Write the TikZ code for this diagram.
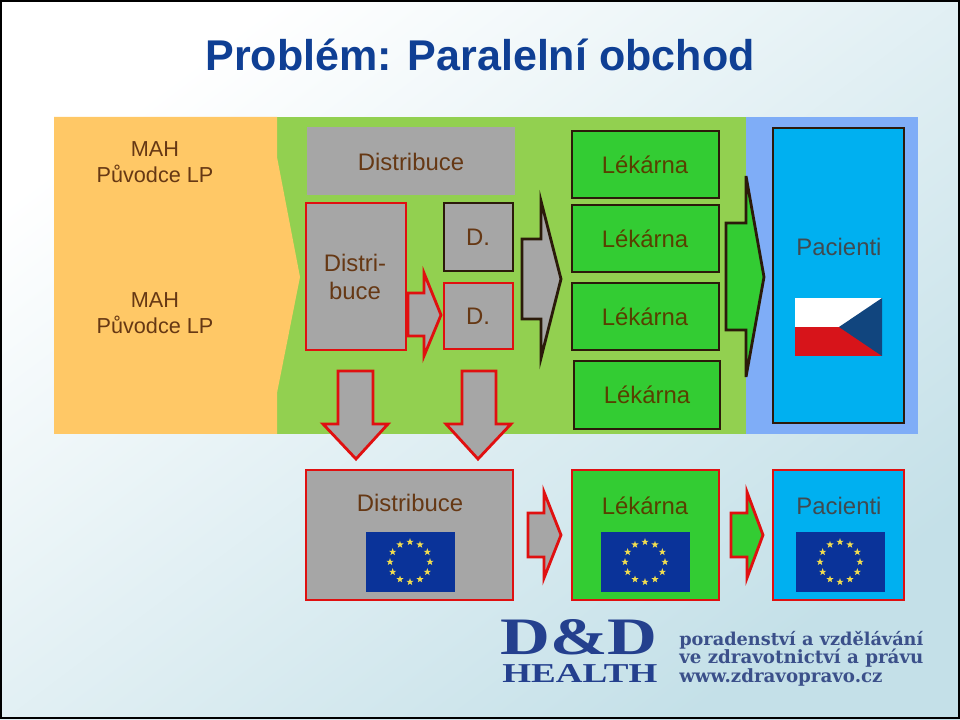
\documentclass[tikz,border=0pt]{standalone}
\usepackage{fontspec}
\setmainfont{Liberation Sans}
\newfontfamily\logoserif{Liberation Serif}
\newfontfamily\logosmall{DejaVu Serif}
\usetikzlibrary{shapes.geometric}
\definecolor{titleblue}{HTML}{0F3F94}
\definecolor{band1}{HTML}{FFC866}
\definecolor{band2}{HTML}{92D050}
\definecolor{band3}{HTML}{7FADF7}
\definecolor{distgrey}{HTML}{A6A6A6}
\definecolor{pharmgreen}{HTML}{33CC33}
\definecolor{patblue}{HTML}{00B0F0}
\definecolor{edgered}{HTML}{E01010}
\definecolor{edgedark}{HTML}{2B1A0A}
\definecolor{ink}{HTML}{663814}
\definecolor{inkgreen}{HTML}{584000}
\definecolor{inkblue}{HTML}{404A50}
\definecolor{czred}{HTML}{D7141A}
\definecolor{czblue}{HTML}{11457E}
\definecolor{euflag}{HTML}{0A3399}
\definecolor{eustar}{HTML}{F0DC50}
\definecolor{logoblue}{HTML}{24408E}
\definecolor{bgmid}{HTML}{F4FAFC}
\definecolor{bgend}{HTML}{C4E0E8}
\tikzset{lab/.style={anchor=base,inner sep=0pt,font=\fontsize{17}{18.5}\selectfont,align=center},
  box/.style={draw=#1,line width=2pt,inner sep=0pt},
  arr/.style={line width=2pt,miter limit=10},
  star12/.style={star,star points=5,star point ratio=2.5,fill=eustar,inner sep=0pt,minimum size=0.19cm}}
\begin{document}
\begin{tikzpicture}[x=0.025cm,y=-0.025cm]
\useasboundingbox (0,0) rectangle (960,720);
\shade[top color=white,middle color=bgmid,bottom color=bgend,shading angle=37] (0,0) rectangle (960,720);
\draw[black,line width=1.2pt] (1,1) rectangle (959,718);
\node[anchor=base,inner sep=0pt,font=\fontsize{30.6}{36}\selectfont\bfseries,text=titleblue] (title) at (480,71) {Problém: Paralelní obchod};
% bands
\fill[band2] (277,117) rectangle (746,434);
\fill[band3] (746,117) rectangle (918,434);
\fill[band1] (54,117) -- (277,117) -- (277,157) -- (300,277) -- (277,393) -- (277,434) -- (54,434) -- cycle;
\node[lab,text=ink,font=\fontsize{15.4}{18.5}\selectfont] (mahtop) at (155,183) {MAH\\Původce LP};
\node[lab,text=ink,font=\fontsize{15.4}{18.5}\selectfont] (mahlow) at (155,334) {MAH\\Původce LP};
% boxes
\foreach \name/\xa/\ya/\xb/\yb/\c/\e in {distbar/308/128/514/194/distgrey/distgrey,distred/306/203/406/350/distgrey/edgered,
  dtop/444/203/513/271/distgrey/edgedark,dlow/444/283/513/349/distgrey/edgered,
  phar1/572/131/719/198/pharmgreen/edgedark,phar2/572/205/719/272/pharmgreen/edgedark,
  phar3/572/283/719/350/pharmgreen/edgedark,phar4/574/361/720/429/pharmgreen/edgedark,
  pat/773/128/904/423/patblue/edgedark,
  eudist/306/470/513/600/distgrey/edgered,euphar/572/470/719/600/pharmgreen/edgered,eupat/773/470/904/600/patblue/edgered}{
\node[box=\e,fill=\c,minimum width={(\xb-\xa)*0.025cm},minimum height={(\yb-\ya)*0.025cm}] (\name) at ({(\xa+\xb)/2},{(\ya+\yb)/2}) {};
}
% arrows to the right
\foreach \xa/\xb/\xc/\ya/\yb/\yc/\yd/\ym/\c/\e in {408/424/441/293/336/273/356/315/distgrey/edgered,
  522/541/561/239/319/201/358/279/distgrey/edgedark,726/746/764/223/330/176/377/277/pharmgreen/edgedark,
  528/544/561/513/557/492/578/535/distgrey/edgered,731/747/763/513/557/492/578/535/pharmgreen/edgered}{
\draw[arr,draw=\e,fill=\c] (\xa,\ya) -- (\xb,\ya) -- (\xb,\yc) -- (\xc,\ym) -- (\xb,\yd) -- (\xb,\yb) -- (\xa,\yb) -- cycle;
}
% arrows down
\foreach \xa/\xb/\xc/\xd/\xm in {338/373/323/388/356,462/496/446/511/478}{
\draw[arr,draw=edgered,fill=distgrey] (\xa,371) -- (\xb,371) -- (\xb,424) -- (\xd,424) -- (\xm,459) -- (\xc,424) -- (\xa,424) -- cycle;
}
% labels
\node[lab,text=ink] (tdistbar) at (411,171) {Distribuce};
\node[lab,text=ink] (tdistred) at (355,300) {Distri-\\[2pt]buce};
\node[lab,text=ink] (tdtop) at (478,246) {D.};
\node[lab,text=ink] (tdlow) at (478,325) {D.};
\foreach \n/\x/\y in {1/645/174,2/645/248,3/645/326,4/647/404}{\node[lab,text=inkgreen] (tphar\n) at (\x,\y) {Lékárna};}
\node[lab,text=inkblue] (tpat) at (839,256) {Pacienti};
\node[lab,text=ink] (teudist) at (410,512) {Distribuce};
\node[lab,text=inkgreen] (teuphar) at (645,515) {Lékárna};
\node[lab,text=inkblue] (teupat) at (839,515) {Pacienti};
% czech flag
\fill[white] (795,298) rectangle (882,327);
\fill[czred] (795,327) rectangle (882,356);
\fill[czblue] (882,298) -- (839,327) -- (882,356) -- cycle;
% eu flags
\foreach \fx in {410,645,840}{
\fill[euflag] (\fx-44.5,532) rectangle (\fx+44.5,592);
\foreach \a in {0,30,...,330}{\node[star12] (eu\fx-\a) at ({\fx+20*cos(\a)},{562+20*sin(\a)}) {};}
}
% logo
\node[anchor=base west,inner sep=0pt,text=logoblue,font=\logoserif\bfseries] (logod) at (500,654) {\resizebox{3.925cm}{0.875cm}{D\&D}};
\node[anchor=base west,inner sep=0pt,text=logoblue,font=\logoserif\bfseries] (logoh) at (502,682) {\resizebox{3.875cm}{0.45cm}{HEALTH}};
\foreach \n/\y/\w/\t in {1/645/6.1cm/poradenství a vzdělávání,2/663/6.1cm/ve zdravotnictví a právu,3/682/5.08cm/www.zdravopravo.cz}{
\node[anchor=base west,inner sep=0pt,text=logoblue!75!gray,font=\logosmall\bfseries] (logot\n) at (679,\y) {\resizebox{\w}{!}{\t}};
}
\end{tikzpicture}
\end{document}
